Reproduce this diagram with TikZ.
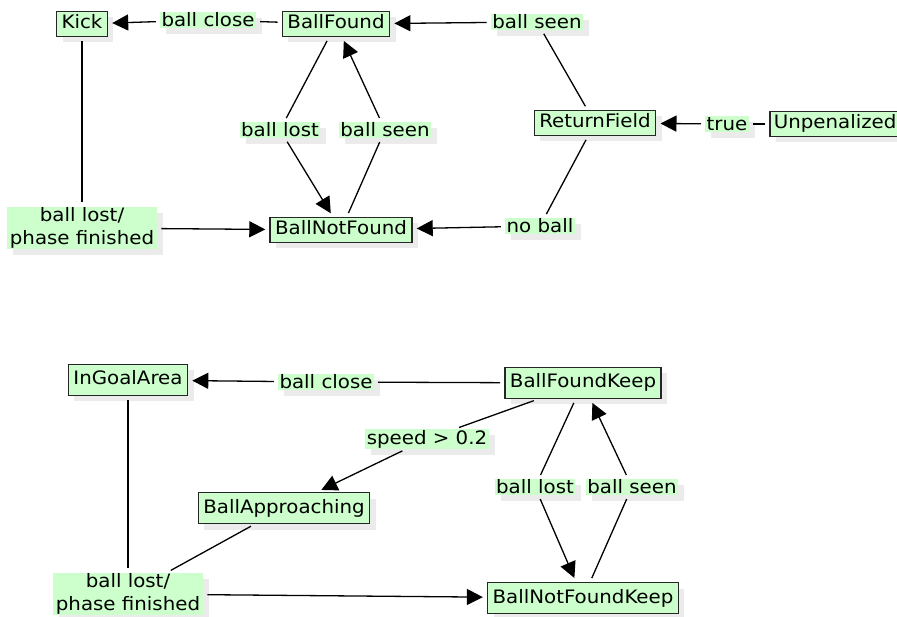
\documentclass[tikz,border=0pt]{standalone}
\usepackage{fontspec}
\setmainfont{DejaVu Sans}[FakeStretch=1.07]
\usetikzlibrary{arrows.meta,shadows}
\definecolor{stategreen}{HTML}{CCFFCC}
\definecolor{shadowgray}{HTML}{EBEBEB}
\tikzset{
  state/.style={draw=black!85, line width=1.6pt, fill=stategreen, inner xsep=5pt, inner ysep=4pt,
    text height=13.5pt, text depth=3.5pt,
    drop shadow={shadow xshift=6pt, shadow yshift=-6pt, fill=shadowgray, opacity=1}},
  bigstate/.style={state, inner ysep=7pt},
  guard/.style={fill=stategreen, inner xsep=1.5pt, inner ysep=1pt,
    drop shadow={shadow xshift=6pt, shadow yshift=-6pt, fill=shadowgray, opacity=1}},
  guardtwo/.style={guard, inner xsep=3pt, align=center},
  edge/.style={line width=1.3pt, shorten <=4pt, shorten >=4pt},
  trans/.style={edge, -{Triangle[length=16pt,width=16pt]}},
}
\begin{document}
\begin{tikzpicture}[x=1pt, y=-1pt, font=\fontsize{18.5}{23}\selectfont]
  %%%%% START %%%%%
  \useasboundingbox (0,0) rectangle (897,617);

  % upper machine
  \node[state] (kick) at (82,24) {Kick};
  \node[state] (ballfound) at (336,24) {BallFound};
  \node[state] (returnfield) at (595,123) {ReturnField};
  \node[state, inner xsep=4pt, anchor=west] (unpenalized) at (769,124) {Unpenalized};
  \node[state] (ballnotfound) at (341,230) {BallNotFound};

  \node[guard] (closeA) at (208,20) {ball close};
  \node[guard] (seenA) at (537,22) {ball seen};
  \node[guard] (trueA) at (727,124) {true};
  \node[guard] (lostA) at (280,130) {ball lost};
  \node[guard] (seenB) at (385,130) {ball seen};
  \node[guard] (noballA) at (540,226) {no ball};
  \node[guardtwo] (phaseA) at (82,228) {ball lost/\\phase finished};

  \draw[edge] (ballfound) -- (closeA);
  \draw[trans] (closeA) -- (kick);
  \draw[edge] (returnfield) -- (seenA);
  \draw[trans] (seenA) -- (ballfound);
  \draw[edge] (unpenalized) -- (trueA);
  \draw[trans] (trueA) -- (returnfield);
  \draw[edge] (ballfound) -- (lostA);
  \draw[trans] (lostA) -- (ballnotfound);
  \draw[edge] (ballnotfound) -- (seenB);
  \draw[trans] (seenB) -- (ballfound);
  \draw[edge] (returnfield) -- (noballA);
  \draw[trans] (noballA) -- (ballnotfound);
  \draw[edge] (kick) -- (phaseA);
  \draw[trans] (phaseA) -- (ballnotfound);

  % lower machine
  \node[bigstate] (ingoal) at (128,380) {InGoalArea};
  \node[bigstate] (foundkeep) at (583,383) {BallFoundKeep};
  \node[bigstate] (approach) at (284,508) {BallApproaching};
  \node[bigstate] (notfoundkeep) at (583,598) {BallNotFoundKeep};

  \node[guard] (closeB) at (326,382) {ball close};
  \node[guard] (speedA) at (427,439) {speed > 0.2};
  \node[guard] (lostB) at (535,487) {ball lost};
  \node[guard] (seenC) at (632,487) {ball seen};
  \node[guardtwo] (phaseB) at (128,594) {ball lost/\\phase finished};

  \draw[edge] (foundkeep) -- (closeB);
  \draw[trans] (closeB) -- (ingoal);
  \draw[edge] (foundkeep) -- (speedA);
  \draw[trans] (speedA) -- (approach);
  \draw[edge] (foundkeep) -- (lostB);
  \draw[trans] (lostB) -- (notfoundkeep);
  \draw[edge] (notfoundkeep) -- (seenC);
  \draw[trans] (seenC) -- (foundkeep);
  \draw[edge] (ingoal) -- (phaseB);
  \draw[edge] (approach) -- (phaseB);
  \draw[trans] (phaseB) -- (notfoundkeep);
  %%%%% END %%%%%
\end{tikzpicture}
\end{document}
